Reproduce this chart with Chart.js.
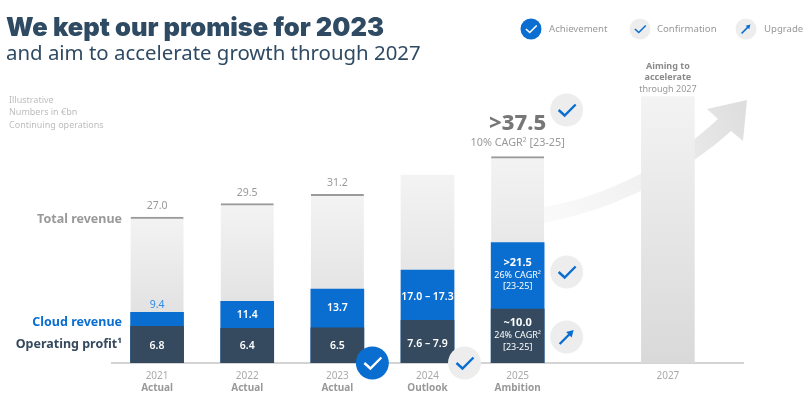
<!DOCTYPE html>
<html><head><meta charset="utf-8">
<style>html,body{margin:0;padding:0;background:#fff}#w{position:relative;width:807px;height:395px}</style>
<script src="https://cdn.jsdelivr.net/npm/chart.js@4"></script>
</head><body><div id="w"><canvas id="c" width="807" height="395"></canvas></div>
<script>
const categories=['2021','2022','2023','2024','2025','2027'];
const statuses=['Actual','Actual','Actual','Outlook','Ambition',''];
const totalRevenue=[27.0,29.5,31.2,34.8,38.2,49.3];
const cloudRevenue=[9.4,11.4,13.7,17.2,22.3,null];
const operatingProfit=[6.8,6.4,6.5,7.9,10.0,null];
const totalLabels=['27.0','29.5','31.2','','>37.5',''];
const cloudLabels=['9.4','11.4','13.7','17.0 – 17.3','>21.5',''];
const profitLabels=['6.8','6.4','6.5','7.6 – 7.9','~10.0',''];
const yearSlots=[1,4,7,10,13,18];
const SLOTS=21, F='"Noto Sans","Open Sans",sans-serif';

function spread(a,blank){const o=new Array(SLOTS).fill(blank);yearSlots.forEach((s,i)=>o[s]=a[i]);return o;}
function slotPx(chart,i){return chart.scales.x.getPixelForValue(yearSlots[i]);}
function T(ctx,s,x,y,font,col,al){ctx.font=font;ctx.fillStyle=col;ctx.textAlign=al||'center';ctx.textBaseline='middle';ctx.fillText(s,x,y);}
function badge(ctx,x,y,r,kind,solid){
  ctx.save();ctx.beginPath();ctx.arc(x,y,r,0,Math.PI*2);ctx.fillStyle=solid?'#0a6ed1':'#ededed';ctx.fill();
  const k=r/16.5;ctx.strokeStyle=solid?'#fff':'#0a6ed1';ctx.lineWidth=Math.max(1.6,2.4*k);ctx.lineCap='butt';ctx.lineJoin='miter';ctx.beginPath();
  if(kind==='check'){ctx.moveTo(x-8*k,y);ctx.lineTo(x-2*k,y+5.5*k);ctx.lineTo(x+9*k,y-5.5*k);ctx.stroke();}
  else{ctx.moveTo(x-7*k,y+7*k);ctx.lineTo(x+3*k,y-3*k);ctx.stroke();ctx.beginPath();ctx.fillStyle='#0a6ed1';ctx.moveTo(x+7*k,y-7*k);ctx.lineTo(x+5*k,y+0.5*k);ctx.lineTo(x-0.5*k,y-5*k);ctx.closePath();ctx.fill();}
  ctx.restore();
}
const arrowPlugin={id:'arrow',beforeDatasetsDraw(chart){
  const c=chart.ctx;c.save();
  const g=c.createLinearGradient(544,215,745,110);g.addColorStop(0,'#fafafa');g.addColorStop(0.5,'#f0f0f0');g.addColorStop(1,'#dedede');
  c.fillStyle=g;c.beginPath();c.moveTo(530,209);
  c.bezierCurveTo(610,200,680,155,718,119);c.lineTo(707,109);c.lineTo(747,100);c.lineTo(743,141);c.lineTo(731,131);
  c.bezierCurveTo(690,168,620,212,530,225);c.closePath();c.fill();c.restore();
}};
const annotate={id:'annotate',afterDatasetsDraw(chart){
  const c=chart.ctx,y=chart.scales.y;c.save();
  const B='700 ',M='600 ',N='400 ';
  ['Illustrative','Numbers in €bn','Continuing operations'].forEach((s,i)=>T(c,s,9,100+i*12.5,N+'9px '+F,'#bdbdbd','left'));
  T(c,'Total revenue',122,219,B+'12.5px '+F,'#999','right');
  T(c,'Cloud revenue',122,322,B+'12.5px '+F,'#0a6ed1','right');
  T(c,'Operating profit¹',122,344,B+'12.5px '+F,'#354a5f','right');
  [0,1,2].forEach(i=>{const x=slotPx(chart,i);
    T(c,totalLabels[i],x,y.getPixelForValue(totalRevenue[i])-11,N+'10.5px '+F,'#999');
  });
  T(c,cloudLabels[0],slotPx(chart,0),305,N+'10.5px '+F,'#2b8ce6');
  [1,2].forEach(i=>{T(c,cloudLabels[i],slotPx(chart,i),(y.getPixelForValue(cloudRevenue[i])+y.getPixelForValue(operatingProfit[i]))/2,M+'10.5px '+F,'#fff');});
  [0,1,2].forEach(i=>T(c,profitLabels[i],slotPx(chart,i),346,M+'10.5px '+F,'#fff'));
  const x24=slotPx(chart,3),x25=slotPx(chart,4),x27=slotPx(chart,5);
  T(c,cloudLabels[3],x24,297,M+'10.5px '+F,'#fff');
  T(c,profitLabels[3],x24,344,M+'10.5px '+F,'#fff');
  T(c,cloudLabels[4],x25,263,B+'11px '+F,'#fff');
  T(c,'26% CAGR²',x25,275,N+'9px '+F,'#fff');T(c,'[23-25]',x25,286,N+'9px '+F,'#fff');
  T(c,profitLabels[4],x25,323,B+'11px '+F,'#fff');
  T(c,'24% CAGR²',x25,335,N+'9px '+F,'#fff');T(c,'[23-25]',x25,347,N+'9px '+F,'#fff');
  T(c,totalLabels[4],x25,124,'800 22px '+F,'#777');
  T(c,'10% CAGR² [23-25]',x25,143,N+'10.8px '+F,'#999');
  T(c,'Aiming to',x27,66,B+'9px '+F,'#8a8a8a');T(c,'accelerate',x27,77,B+'9px '+F,'#8a8a8a');T(c,'through 2027',x27,89,N+'9px '+F,'#999');
  badge(c,slotPx(chart,2)+35,363,16.5,'check',true);
  badge(c,x24+37,363,16.5,'check',false);
  badge(c,x25+49,110,16.5,'check',false);
  badge(c,x25+49,272,16.5,'check',false);
  badge(c,x25+49,337,16.5,'arrow',false);
  badge(c,531,29,10.5,'check',true);T(c,'Achievement',549,29,N+'9.6px '+F,'#999','left');
  badge(c,640,29,10.5,'check',false);T(c,'Confirmation',657,29,N+'9.6px '+F,'#999','left');
  badge(c,746,29,10.5,'arrow',false);T(c,'Upgrade',764,29,N+'9.6px '+F,'#999','left');
  c.restore();
}};
function greyGrad(ctx){const ch=ctx.chart,a=ch.chartArea;if(!a)return '#e8e8e8';
  const v=ctx.raw;if(v==null)return '#e8e8e8';const y=ch.scales.y;
  const g=ch.ctx.createLinearGradient(0,y.getPixelForValue(v),0,y.getPixelForValue(0));g.addColorStop(0,'#f3f3f3');g.addColorStop(1,'#d9d9d9');return g;}
const hasTop=i=>totalLabels[yearSlots.indexOf(i)]!==''&&yearSlots.indexOf(i)>=0;
const base={grouped:false,barThickness:53,borderSkipped:false};
new Chart(document.getElementById('c'),{type:'bar',
  data:{labels:Array.from({length:SLOTS},(_,i)=>String(i)),datasets:[
    {...base,label:'Operating profit',data:spread(operatingProfit,null),backgroundColor:'#354a5f',order:1},
    {...base,label:'Cloud revenue',data:spread(cloudRevenue,null),backgroundColor:'#0a6ed1',order:2},
    {...base,label:'Total revenue',data:spread(totalRevenue,null),backgroundColor:greyGrad,order:3,
      borderColor:'#9a9a9a',borderWidth:ctx=>({top:hasTop(ctx.dataIndex)?2:0,left:0,right:0,bottom:0})}
  ]},
  plugins:[arrowPlugin,annotate],
  options:{responsive:false,animation:false,devicePixelRatio:1,
    layout:{padding:{left:6,right:64,top:0,bottom:0}},
    plugins:{legend:{display:false},tooltip:{enabled:false},
      title:{display:true,text:'We kept our promise for 2023',align:'start',color:'#2f4a63',fullSize:true,font:{family:'Inter,"Noto Sans",sans-serif',size:25.5,weight:'900',lineHeight:1.035},padding:{top:15,bottom:0}},
      subtitle:{display:true,text:'and aim to accelerate growth through 2027',align:'start',color:'#2f4a63',fullSize:true,font:{family:F,size:20.4,weight:'400',lineHeight:1.1},padding:{top:2,bottom:0}}
    },
    scales:{
      y:{display:true,min:0,max:55,grid:{display:false,drawTicks:false},border:{display:false},ticks:{display:false},afterFit(s){s.width=106;}},
      x:{position:'bottom',offset:true,grid:{display:false,drawTicks:false},border:{color:'#d4d4d4',width:2},
        afterFit(s){s.height=20;},
        ticks:{autoSkip:false,maxRotation:0,minRotation:0,padding:7,color:'#aaa',font:{family:F,size:10},callback(v,i){const k=yearSlots.indexOf(i);return k<0?'':categories[k];}}},
      x2:{position:'bottom',offset:true,labels:Array.from({length:SLOTS},(_,i)=>String(i)),grid:{display:false,drawTicks:false},border:{display:false},
        afterFit(s){s.height=12;},
        ticks:{autoSkip:false,maxRotation:0,minRotation:0,padding:-1,color:'#999',font:{family:F,size:10,weight:'700'},callback(v,i){const k=yearSlots.indexOf(i);return k<0?'':statuses[k];}}}
    }
  }
});
</script></body></html>
